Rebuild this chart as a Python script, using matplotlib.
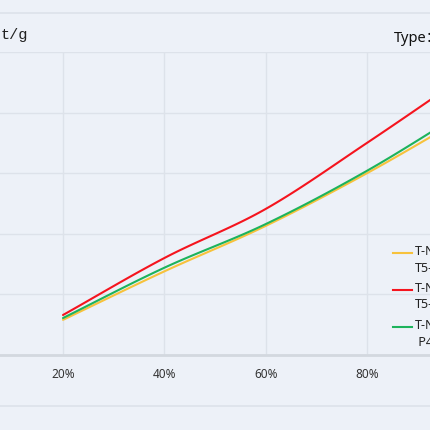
import numpy as np
import matplotlib
matplotlib.use("Agg")
import matplotlib.pyplot as plt
from matplotlib.lines import Line2D

plt.rcParams["font.family"] = ["Noto Sans", "Noto Sans CJK SC", "DejaVu Sans"]

# data (percent on x, t/g on y)
ratio = [20, 40, 60, 80, 100]
series_names = ["T-N1\nT5-A", "T-N2\nT5-B", "T-N3\n P4-C"]
series_values = [
    [29.0, 69.0, 106.5, 150.0, 198.0],
    [33.0, 80.0, 120.5, 175.0, 232.0],
    [30.5, 72.0, 108.0, 152.0, 203.0],
]
series_colors = ["#f7c23c", "#f5141e", "#1db35c"]
x_ticks = [20, 40, 60, 80]
x_ticklabels = ["20%", "40%", "60%", "80%"]
y_ticks = [0, 50, 100, 150, 200, 250]

BG = "#edf1f8"
GRID = "#dde2ea"
W = H = 430


def smooth(xs, ys, n=30):
    # catmull-rom rendering of the curve between the read points
    xs = np.asarray(xs, float)
    ys = np.asarray(ys, float)
    px = np.concatenate([[2 * xs[0] - xs[1]], xs, [2 * xs[-1] - xs[-2]]])
    py = np.concatenate([[2 * ys[0] - ys[1]], ys, [2 * ys[-1] - ys[-2]]])
    ox, oy = [], []
    t = np.linspace(0, 1, n, endpoint=False)
    for i in range(1, len(px) - 2):
        for p, out in ((px, ox), (py, oy)):
            p0, p1, p2, p3 = p[i - 1], p[i], p[i + 1], p[i + 2]
            out.extend(0.5 * (2 * p1 + (-p0 + p2) * t
                              + (2 * p0 - 5 * p1 + 4 * p2 - p3) * t ** 2
                              + (-p0 + 3 * p1 - 3 * p2 + p3) * t ** 3))
    ox.append(xs[-1])
    oy.append(ys[-1])
    return np.array(ox), np.array(oy)


fig = plt.figure(figsize=(4.3, 4.3), dpi=100, facecolor=BG)

# plot area: y 52..355 px, x so that 20% -> 63 px and 80% -> 367 px
top, bottom = 52, 355
ax = fig.add_axes([0, (H - bottom) / H, 1, (bottom - top) / H])
ax.set_facecolor(BG)

ax.set_xticks(x_ticks)
ax.set_xticklabels(x_ticklabels)
ax.set_yticks(y_ticks)
px_per = (367 - 63) / 60
ax.set_xlim(20 - 63 / px_per, 20 + (W - 63) / px_per)
ax.set_ylim(0, 250)
ax.tick_params(axis="x", length=0, pad=9, labelsize=8.5, labelcolor="#333333")
ax.tick_params(axis="y", length=0, labelleft=False)
ax.grid(True, color=GRID, lw=1.0)
ax.set_axisbelow(True)
for s in ["top", "left", "right"]:
    ax.spines[s].set_visible(False)
ax.spines["bottom"].set_color("#d3d8df")
ax.spines["bottom"].set_linewidth(2.0)

for vals, c in zip(series_values, series_colors):
    sx, sy = smooth(ratio, vals)
    ax.plot(sx, sy, color=c, lw=1.5, solid_capstyle="round")

# outer panel lines
for yy in (13, 406):
    fig.add_artist(Line2D([0, 1], [1 - yy / H, 1 - yy / H], transform=fig.transFigure,
                          color=GRID, lw=1.2))

# titles
fig.text(1 / W, 1 - 35 / H, "t/g", family="Liberation Mono", fontsize=11,
         color="#222222", ha="left", va="center")
fig.text(394 / W, 1 - 38 / H, "Type：", fontsize=10.5, color="#111111",
         ha="left", va="center")

# legend
leg_y = [253, 290, 327]
for name, c, yy in zip(series_names, series_colors, leg_y):
    fig.add_artist(Line2D([393 / W, 412 / W], [1 - yy / H] * 2,
                          transform=fig.transFigure, color=c, lw=1.5))
    fig.text(415 / W, 1 - (yy - 8) / H, name, fontsize=9, color="#222222",
             ha="left", va="top", linespacing=1.35)

fig.savefig("out.png", dpi=100, facecolor=BG)
